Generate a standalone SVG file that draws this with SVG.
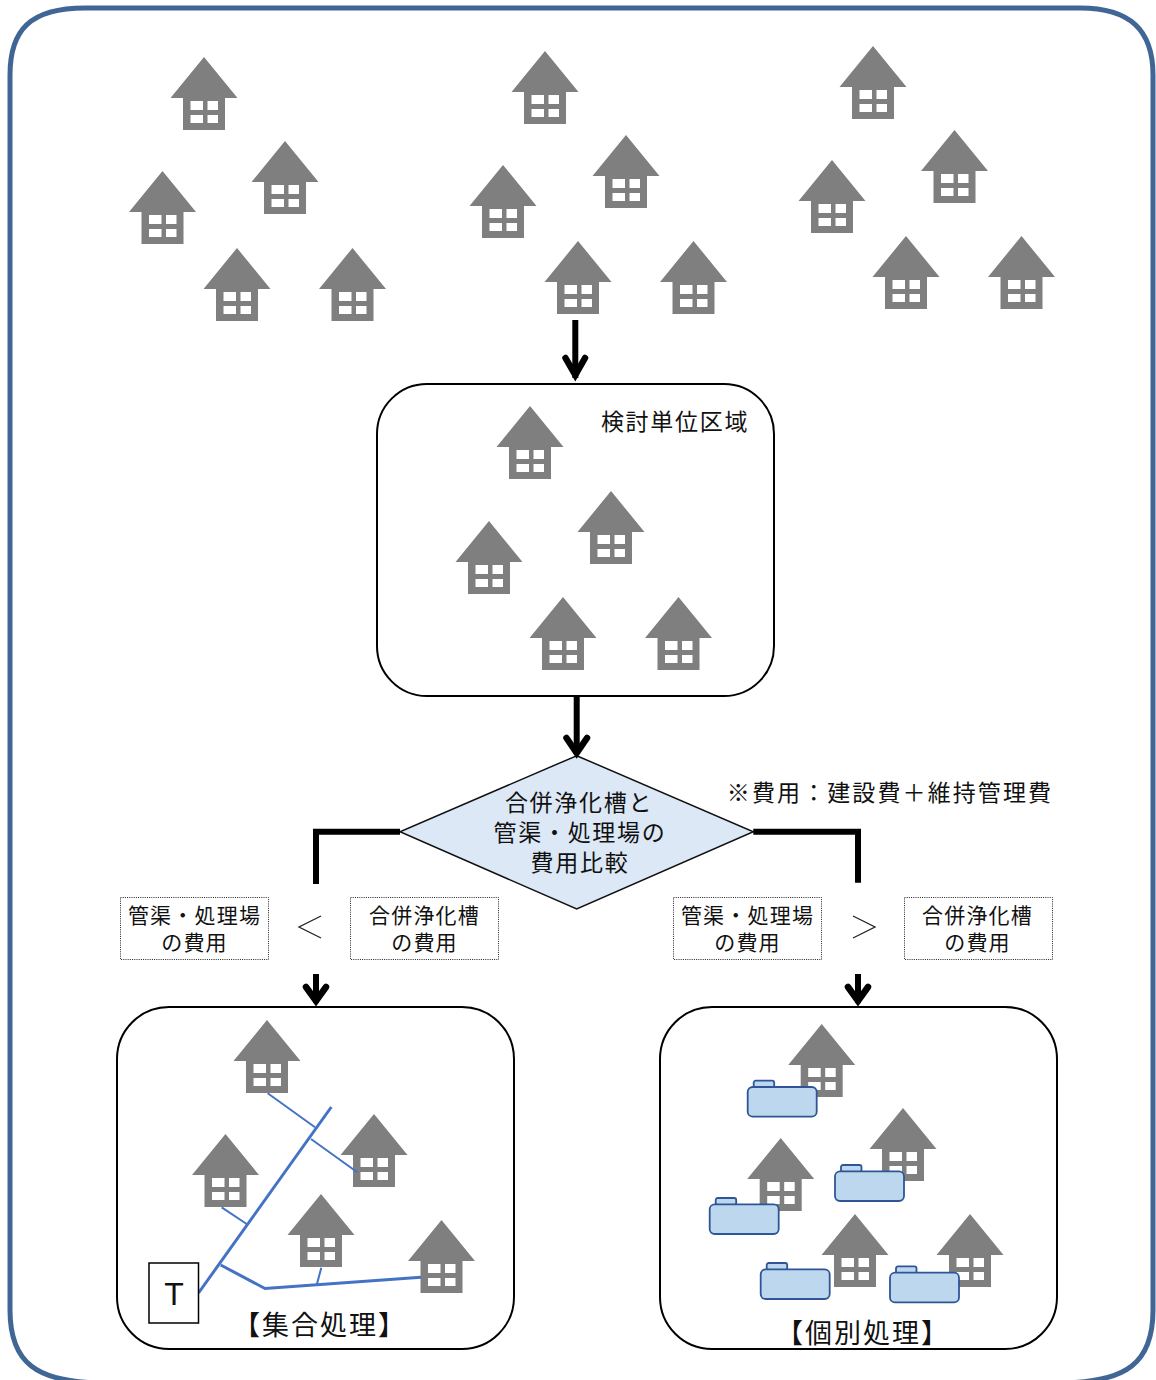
<svg xmlns="http://www.w3.org/2000/svg" width="1156" height="1380" viewBox="0 0 1156 1380">
<style>
text{font-family:"Noto Sans CJK JP","Noto Sans CJK SC",sans-serif;fill:#111;text-anchor:middle;font-size:23px;letter-spacing:1.7px}
.small{font-size:21px;letter-spacing:1.2px}
.title{font-size:27px;letter-spacing:2px}
.box{fill:#fff;stroke:#000;stroke-width:2}
.note{fill:#fff;stroke:#222;stroke-width:1;stroke-dasharray:1 1.2}
.conn{fill:none;stroke:#000;stroke-width:6}
.head{fill:none;stroke:#000;stroke-width:6.500;stroke-linecap:round;stroke-linejoin:miter}
.pipe{fill:none;stroke:#4472c4}
.t{stroke-width:2}.m{stroke-width:3}
</style>
<defs>
<path id="house" fill="#7f7f7f" fill-rule="evenodd" d="M0 0L33.500 41H21V73H-21V41H-33.500ZM-13.500 44V53H-1V44ZM3.500 44V53H14V44ZM-13.500 58V66H-1V58ZM3.500 58V66H14V58Z"/>
<g id="tank" fill="#bdd7ee" stroke="#2f5597" stroke-width="1.800">
<rect x="6" y="-6.300" width="20.500" height="7" rx="2"/>
<rect x="0" y="0" width="69" height="29.700" rx="5"/>
</g>
</defs>
<path id="frame" d="M10 75C10 30 30 8 85 8H1080C1130 8 1153 30 1153 75V1310C1153 1362 1128 1383 1058 1383H105C35 1383 10 1362 10 1310Z" fill="#fff" stroke="#3f6694" stroke-width="5"/>
<g id="cluster-1"><use href="#house" x="204" y="57"/><use href="#house" x="285" y="141"/><use href="#house" x="162.500" y="171"/><use href="#house" x="237" y="248"/><use href="#house" x="352.500" y="248"/></g>
<g id="cluster-2"><use href="#house" x="545" y="51"/><use href="#house" x="626" y="135"/><use href="#house" x="503" y="165"/><use href="#house" x="578" y="241"/><use href="#house" x="693.500" y="241"/></g>
<g id="cluster-3"><use href="#house" x="873" y="46"/><use href="#house" x="954.500" y="130"/><use href="#house" x="832" y="160"/><use href="#house" x="906" y="236"/><use href="#house" x="1021.500" y="236"/></g>
<g id="unit-area">
<rect class="box" x="377" y="384" width="397" height="312" rx="50"/>
<use href="#house" x="530" y="406"/><use href="#house" x="611" y="491"/><use href="#house" x="489" y="521"/><use href="#house" x="563" y="597"/><use href="#house" x="678.500" y="597"/>
<text x="675" y="430">検討単位区域</text>
</g>
<g id="decision">
<path d="M576.700 755.700L753.300 831.700L576.700 909L400 831.700Z" fill="#dce8f5" stroke="#111" stroke-width="1.500"/>
<text><tspan x="579" y="811">合併浄化槽と</tspan><tspan x="580" y="841">管渠・処理場の</tspan><tspan x="580" y="871">費用比較</tspan></text>
</g>
<g id="cost-note"><text x="890" y="801" style="letter-spacing:2.100px">※費用：建設費＋維持管理費</text></g>
<g id="cmp-left">
<rect class="note" x="120.500" y="897.500" width="148" height="62"/><text class="small"><tspan x="194.500" y="923">管渠・処理場</tspan><tspan x="194.500" y="950">の費用</tspan></text>
<rect class="note" x="350.500" y="897.500" width="148" height="62"/><text class="small"><tspan x="424.500" y="923">合併浄化槽</tspan><tspan x="424.500" y="950">の費用</tspan></text>
<path d="M321 916L299 927L321 938" fill="none" stroke="#222" stroke-width="1.300"/>
</g>
<g id="cmp-right">
<rect class="note" x="673.500" y="897.500" width="148" height="62"/><text class="small"><tspan x="747.500" y="923">管渠・処理場</tspan><tspan x="747.500" y="950">の費用</tspan></text>
<rect class="note" x="904.500" y="897.500" width="148" height="62"/><text class="small"><tspan x="977.500" y="923">合併浄化槽</tspan><tspan x="977.500" y="950">の費用</tspan></text>
<path d="M853 916L875 927L853 938" fill="none" stroke="#222" stroke-width="1.300"/>
</g>
<g id="collective">
<rect class="box" x="117" y="1007" width="397" height="342" rx="52"/>
<use href="#house" x="267" y="1020"/><use href="#house" x="374" y="1114"/><use href="#house" x="225.500" y="1134"/><use href="#house" x="321" y="1194"/><use href="#house" x="441.500" y="1220"/>
<path class="pipe t" d="M267.700 1093.300L315 1127.300M311 1139L357.300 1172.300M221.700 1207.300L246.700 1224M321.300 1267.700L316.700 1285"/>
<path class="pipe m" d="M198.500 1293L331.300 1107"/>
<path class="pipe m" d="M220.700 1265L265 1288.500L421 1277.300"/>
<rect x="149" y="1263" width="49.500" height="60" fill="#fff" stroke="#000" stroke-width="1.500"/>
<text x="174" y="1305" style="font-family:'Liberation Sans',sans-serif;font-size:32px;letter-spacing:0">T</text>
<text class="title" x="320" y="1335">【集合処理】</text>
</g>
<g id="individual">
<rect class="box" x="660" y="1007" width="397" height="342" rx="52"/>
<use href="#house" x="821.700" y="1024"/><use href="#house" x="903" y="1108"/><use href="#house" x="780.700" y="1138"/><use href="#house" x="855" y="1214"/><use href="#house" x="970" y="1214"/>
<use href="#tank" x="747.700" y="1087"/><use href="#tank" x="835" y="1171.300"/><use href="#tank" x="709.700" y="1204.300"/><use href="#tank" x="760.700" y="1269.300"/><use href="#tank" x="890" y="1272.700"/>
<text class="title" x="863" y="1343">【個別処理】</text>
</g>
<g id="connectors">
<path class="conn" d="M575.300 320V378"/><path class="head" d="M565.500 358L575.300 375L585 358"/>
<path class="conn" d="M576.700 697V754"/><path class="head" d="M566.500 738L576.700 753L587 738"/>
<path class="conn" d="M400 831.700H316V884M753.300 831.700H858V882.700"/>
<path class="conn" d="M316 974V1003"/><path class="head" d="M306 987L316 1001L326 987"/>
<path class="conn" d="M858 974V1003"/><path class="head" d="M848 987L858 1001L868 987"/>
</g>
</svg>
